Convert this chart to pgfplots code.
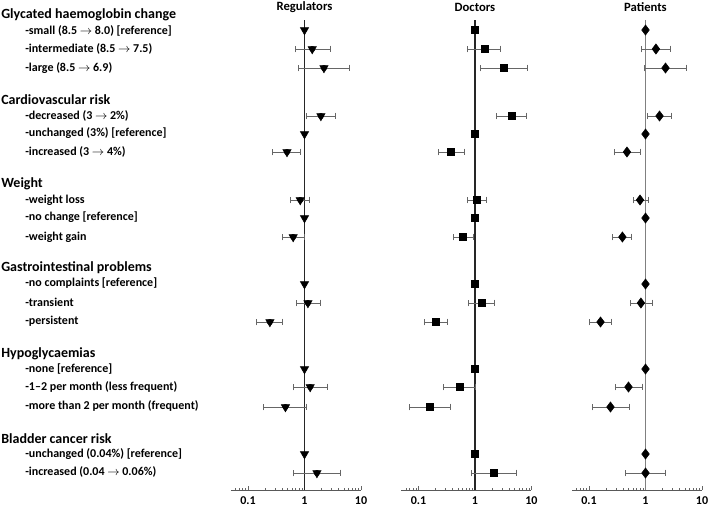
\documentclass[border=0pt]{standalone}
\usepackage{pgfplots}
\pgfplotsset{compat=1.18}
\usepackage{pgfplotstable}
\usepackage{fontspec}
\setmainfont{Carlito}

% markers: y = row position (px from top), m = estimate
% ci tables: rows with a 95% CI (reference rows left out)
\pgfplotstableread{
y m
30 1
49 1.37
68 2.21
116 1.95
134 1
152 0.49
200 0.84
218 1
237 0.63
284 1
303 1.15
322 0.244
369 1
387 1.26
407 0.46
454 1
473 1.66
}\regm
\pgfplotstableread{
y m lo hi
49 1.37 0.70 2.86
68 2.21 0.78 6.2
116 1.95 1.10 3.55
152 0.49 0.275 0.85
200 0.84 0.57 1.23
237 0.63 0.41 1.0
303 1.15 0.73 1.92
322 0.244 0.143 0.41
387 1.26 0.64 2.56
407 0.46 0.19 1.10
473 1.66 0.64 4.35
}\regci

\pgfplotstableread{
y m
30 1
49 1.47
68 3.27
116 4.53
134 1
152 0.375
200 1.07
218 1
237 0.61
284 1
303 1.30
322 0.204
369 1
387 0.53
407 0.16
454 1
473 2.17
}\docm
\pgfplotstableread{
y m lo hi
49 1.47 0.74 2.77
68 3.27 1.23 8.6
116 4.53 2.45 8.0
152 0.375 0.224 0.65
200 1.07 0.74 1.57
237 0.61 0.41 0.95
303 1.30 0.76 2.21
322 0.204 0.127 0.33
387 0.53 0.275 1.0
407 0.16 0.069 0.37
473 2.17 0.87 5.33
}\docci

\pgfplotstableread{
y m
30 1
49 1.53
68 2.26
116 1.77
134 1
152 0.47
200 0.80
218 1
237 0.39
284 1
303 0.83
322 0.16
369 1
387 0.50
407 0.24
454 1
473 1.0
}\patm
\pgfplotstableread{
y m lo hi
49 1.53 0.86 2.77
68 2.26 0.96 5.27
116 1.77 1.08 2.89
152 0.47 0.28 0.80
200 0.80 0.60 1.15
237 0.39 0.26 0.57
303 0.83 0.55 1.33
322 0.16 0.10 0.25
387 0.50 0.29 0.88
407 0.24 0.117 0.52
473 1.0 0.44 2.26
}\patci

\newcommand{\cibars}[1]{%
  \addplot[only marks, mark=none,
    error bars/.cd, x dir=both, x explicit,
    error bar style={black!60, line width=0.7pt},
    error mark options={black!60, line width=0.7pt, mark size=2.6pt, rotate=90}]
    table[x=m, y=y,
    x error plus expr=\thisrow{hi}-\thisrow{m},
    x error minus expr=\thisrow{m}-\thisrow{lo}] {#1};}

\newcommand{\hd}[2]{\node[anchor=west, inner sep=0pt, font=\bfseries\fontsize{10.5}{12}\selectfont] at (axis cs:4.25e-6,#1) {#2};}
\newcommand{\rowlab}[2]{\node[anchor=west, inner sep=0pt, font=\bfseries\fontsize{9}{10}\selectfont] at (axis cs:1.13e-5,#1) {#2};}

\begin{document}
\begin{tikzpicture}
\path[use as bounding box] (0,0) rectangle (531pt,384pt);

% Regulators
\begin{axis}[at={(173.25pt,16.5pt)}, anchor=south west,
    scale only axis, width=97.5pt, height=352.5pt,
    xmode=log, xmin=0.05, xmax=10,
    ymin=20, ymax=490, y dir=reverse,
    axis x line=bottom, axis y line=none,
    axis line style={-, black!65, line width=0.6pt},
    xtick={0.1,1,10}, xticklabels={0.1,1,10},
    minor xtick={0.06,0.07,0.08,0.09,0.2,0.3,0.4,0.5,0.6,0.7,0.8,0.9,2,3,4,5,6,7,8,9},
    tick align=inside, major tick length=3pt, minor tick length=1.8pt,
    tick style={black!60, line width=0.5pt},
    xticklabel style={font=\bfseries\fontsize{9}{10}\selectfont, yshift=-1.5pt},
    clip=false]
\addplot[black!85, line width=1pt] coordinates {(1,20) (1,490)};
\cibars{\regci}
\addplot[only marks, mark=triangle*, mark size=3.6pt, mark options={rotate=180, fill=black, draw=black}] table[x=m, y=y] {\regm};
\node[font=\bfseries\fontsize{9.5}{11}\selectfont] at (axis cs:1,7) {Regulators};
\hd{15}{Glycated haemoglobin change}
\hd{100}{Cardiovascular risk}
\hd{184}{Weight}
\hd{268}{Gastrointestinal problems}
\hd{354}{Hypoglycaemias}
\hd{439}{Bladder cancer risk}
\rowlab{31}{-small (8.5 $\rightarrow$ 8.0) [reference]}
\rowlab{49}{-intermediate (8.5 $\rightarrow$ 7.5)}
\rowlab{68}{-large (8.5 $\rightarrow$ 6.9)}
\rowlab{116}{-decreased (3 $\rightarrow$ 2\%)}
\rowlab{133}{-unchanged (3\%) [reference]}
\rowlab{152}{-increased (3 $\rightarrow$ 4\%)}
\rowlab{200}{-weight loss}
\rowlab{217}{-no change [reference]}
\rowlab{237}{-weight gain}
\rowlab{283}{-no complaints [reference]}
\rowlab{302}{-transient}
\rowlab{321}{-persistent}
\rowlab{369}{-none [reference]}
\rowlab{387}{-1--2 per month (less frequent)}
\rowlab{406}{-more than 2 per month (frequent)}
\rowlab{454}{-unchanged (0.04\%) [reference]}
\rowlab{472}{-increased (0.04 $\rightarrow$ 0.06\%)}
\end{axis}

% Doctors
\begin{axis}[at={(301.1pt,16.5pt)}, anchor=south west,
    scale only axis, width=97.5pt, height=352.5pt,
    xmode=log, xmin=0.05, xmax=10,
    ymin=20, ymax=490, y dir=reverse,
    axis x line=bottom, axis y line=none,
    axis line style={-, black!65, line width=0.6pt},
    xtick={0.1,1,10}, xticklabels={0.1,1,10},
    minor xtick={0.06,0.07,0.08,0.09,0.2,0.3,0.4,0.5,0.6,0.7,0.8,0.9,2,3,4,5,6,7,8,9},
    tick align=inside, major tick length=3pt, minor tick length=1.8pt,
    tick style={black!60, line width=0.5pt},
    xticklabel style={font=\bfseries\fontsize{9}{10}\selectfont, yshift=-1.5pt},
    clip=false]
\addplot[black!85, line width=1pt] coordinates {(1,20) (1,490)};
\cibars{\docci}
\addplot[only marks, mark=square*, mark size=2.7pt, mark options={fill=black, draw=black}] table[x=m, y=y] {\docm};
\node[font=\bfseries\fontsize{9.5}{11}\selectfont] at (axis cs:1,7) {Doctors};
\end{axis}

% Patients
\begin{axis}[at={(429pt,16.5pt)}, anchor=south west,
    scale only axis, width=97.5pt, height=352.5pt,
    xmode=log, xmin=0.05, xmax=10,
    ymin=20, ymax=490, y dir=reverse,
    axis x line=bottom, axis y line=none,
    axis line style={-, black!65, line width=0.6pt},
    xtick={0.1,1,10}, xticklabels={0.1,1,10},
    minor xtick={0.06,0.07,0.08,0.09,0.2,0.3,0.4,0.5,0.6,0.7,0.8,0.9,2,3,4,5,6,7,8,9},
    tick align=inside, major tick length=3pt, minor tick length=1.8pt,
    tick style={black!60, line width=0.5pt},
    xticklabel style={font=\bfseries\fontsize{9}{10}\selectfont, yshift=-1.5pt},
    clip=false]
\addplot[black!50, line width=1pt] coordinates {(1,20) (1,490)};
\cibars{\patci}
\addplot[only marks, mark=diamond*, mark size=3.8pt, mark options={fill=black, draw=black}] table[x=m, y=y] {\patm};
\node[font=\bfseries\fontsize{9.5}{11}\selectfont] at (axis cs:1,7) {Patients};
\end{axis}
\end{tikzpicture}
\end{document}
